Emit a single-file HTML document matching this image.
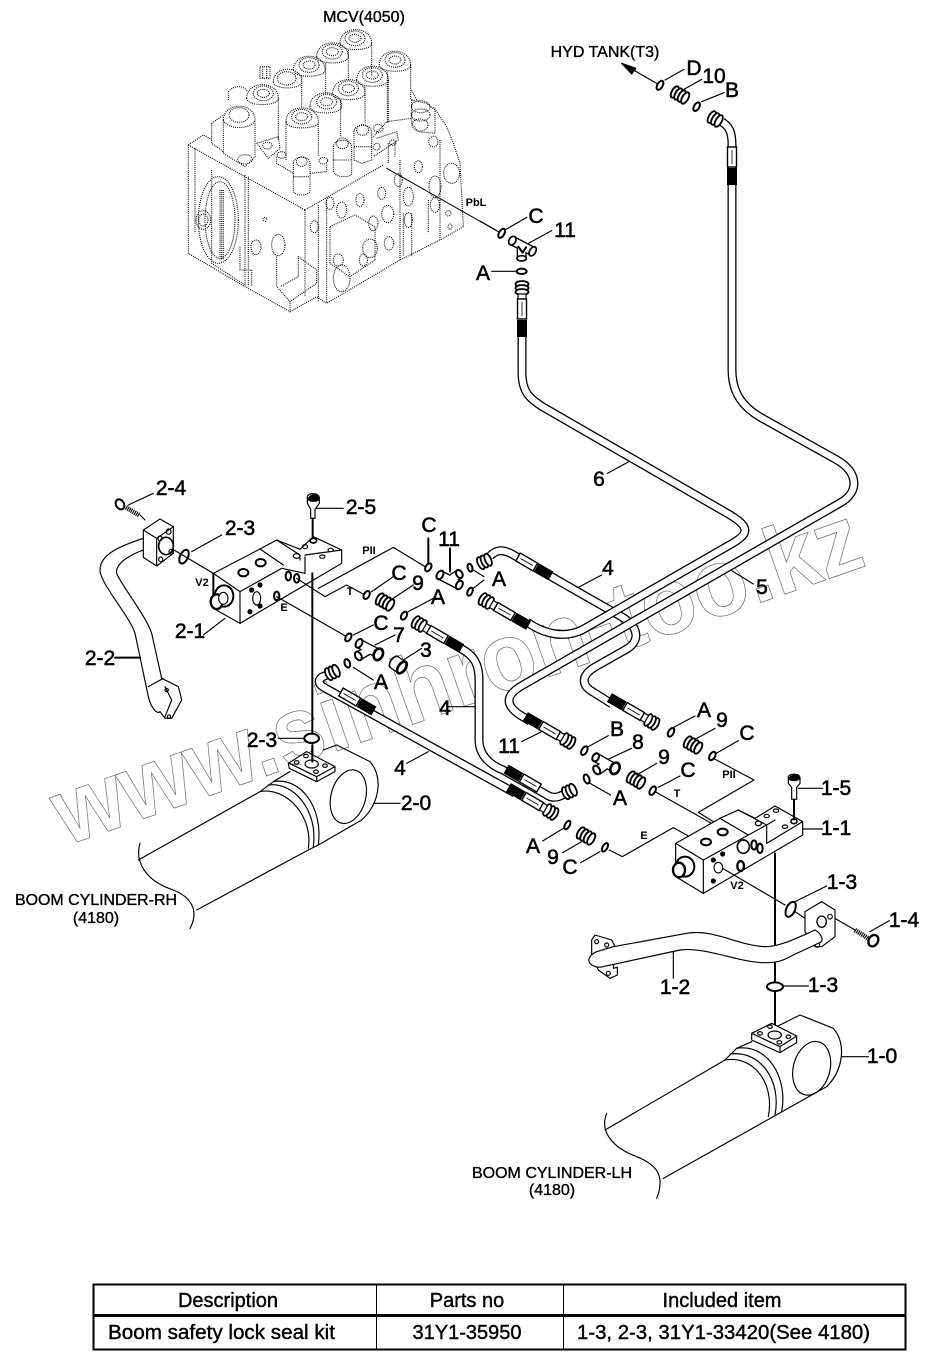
<!DOCTYPE html>
<html><head><meta charset="utf-8"><style>
html,body{margin:0;padding:0;background:#fff}
svg{display:block}
text{font-family:"Liberation Sans",sans-serif;fill:#000}
.l text{font-size:21px;stroke:#000;stroke-width:.55;text-anchor:middle}
.s text{font-size:11px;font-weight:bold;text-anchor:middle}
.c text{font-size:16px;stroke:#000;stroke-width:.35;text-anchor:middle}
.t text{font-size:20px;stroke:#000;stroke-width:.4}
.d *{fill:none;stroke:#000;stroke-width:3.2;stroke-dasharray:3 3.2}
.z *{fill:none;stroke:#000;stroke-width:3.5;stroke-linejoin:round;stroke-linecap:round}
.z .w{fill:#fff}
.z .b{stroke-width:6}
.z .th{stroke-linecap:butt;stroke-width:14;stroke-dasharray:3.5 2.5}
.z .bk{fill:#000}
.z .tb{stroke-linecap:butt;stroke-width:30}
.z .tw{stroke-linecap:butt;stroke-width:22;stroke:#fff}
.z .n{fill:#fff;stroke-width:6}
</style></head><body>
<svg width="929" height="1366" viewBox="0 0 929 1366" xmlns="http://www.w3.org/2000/svg">
<defs>
<g id="nut"><g fill="#fff" stroke="#000" stroke-width="1.8"><ellipse cx="2" cy="0" rx="3" ry="6.5"/><ellipse cx="6" cy="0" rx="3" ry="6.5"/><ellipse cx="10" cy="0" rx="3" ry="6.5"/></g></g>
<g id="crimp"><rect x="0" y="-4.5" width="20" height="9" fill="#fff" stroke="#000" stroke-width="1.4"/><line x1="3" y1="0" x2="17" y2="0" stroke="#000" stroke-width=".8"/><rect x="21" y="-5" width="17" height="10" fill="#000"/></g>
<g id="fit"><use href="#nut"/><rect x="12" y="-4" width="5" height="8" fill="#fff" stroke="#000" stroke-width="1.2"/><use href="#crimp" x="17"/></g>
<g id="nut9"><g fill="#fff" stroke="#000" stroke-width="1.9"><ellipse cx="-6" cy="0" rx="3" ry="6.3"/><ellipse cx="-2" cy="0" rx="3" ry="6.3"/><ellipse cx="2" cy="0" rx="3" ry="6.3"/><ellipse cx="6" cy="0" rx="3" ry="6.3"/></g></g>
</defs>

<!-- watermark -->
<text transform="translate(66,846) rotate(-19.3)" font-size="96" font-weight="bold" textLength="850" lengthAdjust="spacingAndGlyphs" style="fill:none;stroke:#777;stroke-width:.8">www.sinhron-too.kz</text>

<!-- MCV dotted drawing -->
<g class="d" transform="translate(170,0) scale(.33333)">
<path d="M55,435 L100,405 L125,418 M55,435 L405,630 M405,630 L405,890 M405,630 L640,495 M55,435 V760 L225,860 L360,935 V905 M360,935 L440,890 L470,910 L690,780 L810,720 L880,680 L870,490 L850,430 L830,380 L790,320 M740,300 L725,270"/>
<path d="M75,445 V700 M225,525 V860 M235,530 V860 M125,510 V790 L225,855"/>
<path d="M445,615 V905 M470,600 V910 M690,480 V780 M810,420 V720"/>
<ellipse cx="145" cy="660" rx="60" ry="130"/><ellipse cx="150" cy="660" rx="45" ry="115"/><path d="M150,570 V780 M160,570 V780 M155,570 V780"/>
<ellipse cx="100" cy="660" rx="22" ry="28"/><ellipse cx="100" cy="660" rx="14" ry="18"/>
<path d="M510,130 C510,75 605,75 605,130 C605,155 510,155 510,130 M605,130 V230 M535,150 V240"/><ellipse cx="555" cy="115" rx="30" ry="22"/><ellipse cx="555" cy="115" rx="18" ry="12"/>
<path d="M440,170 C440,115 535,115 535,170 C535,195 440,195 440,170 M467,190 V280"/><ellipse cx="487" cy="155" rx="30" ry="22"/><ellipse cx="487" cy="155" rx="18" ry="12"/>
<path d="M370,210 C370,155 465,155 465,210 C465,235 370,235 370,210 M395,230 V320"/><ellipse cx="417" cy="195" rx="30" ry="22"/><ellipse cx="417" cy="195" rx="18" ry="12"/>
<path d="M310,245 C310,195 395,195 395,245 C395,270 310,270 310,245"/><ellipse cx="350" cy="235" rx="28" ry="20"/>
<path d="M628,195 C628,140 722,140 722,195 C722,220 628,220 628,195 M722,195 V300 M652,215 V370"/><ellipse cx="675" cy="180" rx="30" ry="22"/><ellipse cx="675" cy="180" rx="18" ry="12"/>
<path d="M560,240 C560,185 655,185 655,240 C655,265 560,265 560,240 M655,240 V370 M585,260 V370"/><ellipse cx="607" cy="225" rx="30" ry="22"/><ellipse cx="607" cy="225" rx="18" ry="12"/>
<path d="M488,280 C488,225 585,225 585,280 C585,305 488,305 488,280 M512,300 V410"/><ellipse cx="535" cy="265" rx="30" ry="22"/><ellipse cx="535" cy="265" rx="18" ry="12"/>
<path d="M420,320 C420,265 515,265 515,320 C515,345 420,345 420,320"/><ellipse cx="470" cy="305" rx="30" ry="22"/><ellipse cx="470" cy="305" rx="18" ry="12"/>
<path d="M348,365 C348,310 445,310 445,365 C445,390 348,390 348,365 M348,365 V480 M445,365 V470"/><ellipse cx="395" cy="350" rx="30" ry="22"/><ellipse cx="395" cy="350" rx="18" ry="12"/>
<path d="M230,295 C230,240 325,240 325,295 C325,320 230,320 230,295 M325,295 V420"/><ellipse cx="280" cy="280" rx="30" ry="22"/><ellipse cx="280" cy="280" rx="18" ry="12"/>
<path d="M175,300 V275 C190,255 225,255 232,275 M270,200 H300 V235 H270Z M278,200 V235 M290,200 V235"/>
<path d="M160,360 C160,305 255,305 255,360 V470 L225,500 L160,460Z M160,360 C170,390 245,390 255,360"/><ellipse cx="207" cy="345" rx="30" ry="22"/><ellipse cx="225" cy="478" rx="22" ry="14"/>
<path d="M125,370 L160,345 M125,370 V430 L160,455"/>
<path d="M260,430 L325,410 L330,445 L295,475 L260,430"/><ellipse cx="292" cy="437" rx="14" ry="10"/>
<path d="M370,490 C370,465 420,465 420,490 V570 C420,590 370,590 370,570Z M370,530 H420"/><ellipse cx="395" cy="485" rx="16" ry="14"/>
<path d="M320,470 V490 L370,520 M420,520 L470,515 V490"/><ellipse cx="335" cy="465" rx="13" ry="10"/><ellipse cx="460" cy="482" rx="13" ry="10"/>
<path d="M490,440 C490,415 545,415 545,440 V520 C545,535 490,535 490,510Z M490,480 H545"/><ellipse cx="517" cy="430" rx="18" ry="16"/>
<path d="M552,395 C552,370 605,370 605,395 V480 L575,490 L552,480Z M552,440 H605"/><ellipse cx="578" cy="390" rx="18" ry="16"/>
<path d="M620,415 L680,395 L685,420 L610,470 M655,430 V490 M675,430 V470"/><ellipse cx="625" cy="385" rx="14" ry="12"/><ellipse cx="620" cy="440" rx="10" ry="10"/><ellipse cx="668" cy="428" rx="10" ry="8"/>
<path d="M725,300 L770,310 L795,330 V400 L745,395 L725,370Z M610,410 L650,365 L725,355"/><ellipse cx="752" cy="320" rx="28" ry="18"/><ellipse cx="752" cy="345" rx="28" ry="18"/><ellipse cx="750" cy="375" rx="24" ry="18"/>
<ellipse cx="515" cy="630" rx="15" ry="24"/><ellipse cx="480" cy="610" rx="12" ry="18"/><ellipse cx="570" cy="600" rx="12" ry="20"/><ellipse cx="635" cy="580" rx="12" ry="18"/><ellipse cx="653" cy="642" rx="18" ry="26"/><ellipse cx="715" cy="590" rx="15" ry="28"/><ellipse cx="685" cy="540" rx="12" ry="20"/><ellipse cx="745" cy="500" rx="12" ry="18"/><ellipse cx="795" cy="560" rx="18" ry="32"/><ellipse cx="795" cy="615" rx="14" ry="22"/><ellipse cx="845" cy="520" rx="24" ry="30"/><ellipse cx="790" cy="425" rx="14" ry="16"/><ellipse cx="840" cy="680" rx="6" ry="8"/><ellipse cx="835" cy="640" rx="8" ry="8"/><ellipse cx="715" cy="660" rx="12" ry="22"/><ellipse cx="657" cy="730" rx="14" ry="20"/><ellipse cx="610" cy="670" rx="14" ry="22"/><ellipse cx="600" cy="745" rx="22" ry="28"/><ellipse cx="580" cy="780" rx="12" ry="18"/><ellipse cx="515" cy="835" rx="25" ry="40"/><ellipse cx="505" cy="780" rx="15" ry="18"/><ellipse cx="433" cy="680" rx="12" ry="18"/><ellipse cx="325" cy="735" rx="20" ry="32"/><ellipse cx="258" cy="742" rx="15" ry="22"/><ellipse cx="285" cy="658" rx="6" ry="6"/>
<path d="M480,680 L555,645 L615,680 V780 L540,830 L480,790Z M320,770 V860 L360,905 L440,850 V810 L385,770 V830 L330,860 M700,640 V770 M725,640 V770 M775,600 V700 M210,740 V810 L245,810 V860"/>
</g>

<!-- hoses -->
<g fill="none" stroke-linejoin="round">
<path d="M490,556 C497,549 503,550 510,553 L622,617 C640,628 640,642 625,650 L595,667 C580,676 582,686 593,692 L612,704" stroke="#000" stroke-width="9"/>
<path d="M490,556 C497,549 503,550 510,553 L622,617 C640,628 640,642 625,650 L595,667 C580,676 582,686 593,692 L612,704" stroke="#fff" stroke-width="6.4"/>
<path d="M460,648 C475,656 479,665 479,680 V740 C479,755 490,765 503,770 L547,795 C555,800 562,796 570,790" stroke="#000" stroke-width="9"/>
<path d="M460,648 C475,656 479,665 479,680 V740 C479,755 490,765 503,770 L547,795 C555,800 562,796 570,790" stroke="#fff" stroke-width="6.4"/>
<path d="M332,673 L322,677 C317,681 319,685 325,688 L515,793" stroke="#000" stroke-width="9"/>
<path d="M332,673 L322,677 C317,681 319,685 325,688 L515,793" stroke="#fff" stroke-width="6.4"/>
<path d="M522,335 V373 C522,392 530,399 543,407 L725,512 C750,526 750,533 733,543 L582,630 C565,638 545,635 527,622" stroke="#000" stroke-width="9"/>
<path d="M522,335 V373 C522,392 530,399 543,407 L725,512 C750,526 750,533 733,543 L582,630 C565,638 545,635 527,622" stroke="#fff" stroke-width="6.4"/>
<path d="M722,122 C730,127 732,133 732,145 V370 C732,395 745,408 760,417 L837,460 C858,472 860,492 840,503 L523,685 C505,695 505,705 520,715 L530,721" stroke="#000" stroke-width="9"/>
<path d="M722,122 C730,127 732,133 732,145 V370 C732,395 745,408 760,417 L837,460 C858,472 860,492 840,503 L523,685 C505,695 505,705 520,715 L530,721" stroke="#fff" stroke-width="6.4"/>
</g>
<!-- hose fittings -->
<use href="#fit" transform="translate(522,282) rotate(90)"/>
<use href="#crimp" transform="translate(732,147) rotate(90)"/>
<use href="#nut" transform="translate(710,116) rotate(30)"/>
<use href="#fit" transform="translate(414,621) rotate(30)"/>
<use href="#fit" transform="translate(481,598) rotate(30)"/>
<use href="#fit" transform="translate(573,744) rotate(210)"/>
<use href="#fit" transform="translate(657,725) rotate(210)"/>
<use href="#fit" transform="translate(556,815) rotate(210)"/>
<use href="#crimp" transform="translate(539,788) rotate(210)"/>
<use href="#nut" transform="translate(564,794) rotate(-25)"/>
<use href="#crimp" transform="translate(518,557) rotate(30)"/>
<use href="#nut" transform="translate(479,564) rotate(-25)"/>
<use href="#nut" transform="translate(327,675) rotate(-25)"/>
<use href="#crimp" transform="translate(341,692) rotate(30)"/>
<use href="#nut9" transform="translate(680,95) rotate(30)"/>
<use href="#nut9" transform="translate(385,602) rotate(30)"/>
<use href="#nut9" transform="translate(636,780) rotate(30)"/>
<use href="#nut9" transform="translate(693,745) rotate(30)"/>
<use href="#nut9" transform="translate(586,836) rotate(30)"/>

<!-- z5 top right -->
<g class="z" transform="translate(480,20) scale(.33333)">
<line x1="530" y1="190" x2="460" y2="150"/><path class="bk" d="M425,130 L468,145 L455,162Z"/>
<line x1="555" y1="180" x2="612" y2="148"/><line x1="605" y1="212" x2="665" y2="178"/><line x1="665" y1="245" x2="732" y2="218"/>
<ellipse class="w" cx="540" cy="196" rx="8" ry="15" transform="rotate(30 540 196)" style="stroke-width:6"/>
<ellipse class="w" cx="650" cy="260" rx="8" ry="14" transform="rotate(30 650 260)" style="stroke-width:6"/>
<line x1="50" y1="632" x2="0" y2="603"/>
<ellipse class="w" cx="65" cy="640" rx="8" ry="15" transform="rotate(30 65 640)" style="stroke-width:6"/>
<line x1="78" y1="628" x2="140" y2="592"/><line x1="145" y1="670" x2="215" y2="632"/>
<ellipse class="w" cx="125" cy="754" rx="15" ry="8" style="stroke-width:6"/><line x1="35" y1="754" x2="108" y2="754"/>
<!-- T 11 -->
<path class="tb" d="M97,662 L158,694 M125,678 V718"/><path class="tw" d="M97,662 L158,694 M125,678 V716"/>
<ellipse class="w" cx="97" cy="662" rx="10" ry="14" transform="rotate(30 97 662)" style="stroke-width:5"/><ellipse class="w" cx="158" cy="694" rx="9" ry="15" transform="rotate(30 158 694)" style="stroke-width:5"/><ellipse class="w" cx="125" cy="715" rx="14" ry="8" style="stroke-width:5"/>
<path d="M115,680 L128,698 L138,682" style="stroke-width:6"/>
<!-- 6 leader -->
<line x1="382" y1="1360" x2="445" y2="1326"/>
</g>
<!-- left group in z2 -->
<g class="z" transform="translate(60,470) scale(.33333)">
<path class="w" d="M250,180 L300,147 L340,170 V250 L290,288 L250,262Z M250,180 L290,205 V288 M290,205 L340,170"/>
<ellipse cx="318" cy="228" rx="22" ry="26" style="stroke-width:5"/><ellipse cx="326" cy="185" rx="7" ry="8"/><ellipse cx="300" cy="205" rx="6" ry="7"/><ellipse cx="333" cy="245" rx="6" ry="7"/><ellipse cx="302" cy="268" rx="6" ry="7"/>
<path d="M250,205 C190,225 120,250 120,300 C120,340 210,440 225,490 L265,680 C272,710 290,735 300,725 M250,240 C210,255 165,280 170,310 C180,340 260,440 275,490 L305,625 M265,650 L310,625"/>
<path d="M305,625 L355,650 L365,690 L335,745 L315,745 L300,725 M315,650 L335,690 L315,740"/><circle cx="327" cy="740" r="5"/><circle cx="320" cy="660" r="5"/>
<path d="M240,135 L255,150"/><path class="th" d="M198,112 L238,136"/><ellipse class="w" cx="180" cy="103" rx="12" ry="16" transform="rotate(-30 180 103)" style="stroke-width:6"/>
<line x1="205" y1="105" x2="280" y2="70"/>
<path class="w" d="M742,78 C750,68 775,68 778,82 V100 L765,118 V145 H752 V118 L742,100Z"/><path class="bk" d="M744,88 C750,70 775,70 777,88 C770,96 750,96 744,88Z"/>
<line x1="758" y1="145" x2="758" y2="205" class="b"/><line x1="770" y1="115" x2="850" y2="115"/>
<ellipse class="w" cx="372" cy="260" rx="12" ry="22" transform="rotate(25 372 260)" style="stroke-width:6"/>
<line x1="395" y1="245" x2="485" y2="195"/><line x1="342" y1="240" x2="460" y2="310"/>
<path class="w" d="M460,310 L600,237 L650,210 L720,238 L760,200 L845,240 V280 L540,460 L460,415Z"/>
<path d="M460,310 L540,365 V460 M540,365 L665,295 L735,310 M600,237 L670,285 M650,210 L720,255 V270 M735,260 V310 M735,255 L845,240"/>
<line x1="460" y1="310" x2="460" y2="400" class="b"/>
<ellipse cx="550" cy="308" rx="15" ry="11" style="stroke-width:6"/><ellipse cx="602" cy="278" rx="15" ry="11" style="stroke-width:6"/><ellipse cx="760" cy="212" rx="10" ry="7" style="stroke-width:5"/><ellipse cx="735" cy="230" rx="8" ry="6"/><ellipse cx="812" cy="240" rx="8" ry="5"/><ellipse cx="787" cy="260" rx="8" ry="5"/><ellipse cx="710" cy="258" rx="10" ry="7"/>
<ellipse cx="590" cy="385" rx="12" ry="20"/><circle cx="575" cy="360" r="6" class="bk"/><circle cx="600" cy="345" r="6" class="bk"/><circle cx="570" cy="425" r="6" class="bk"/><circle cx="600" cy="408" r="6" class="bk"/>
<ellipse class="w" cx="650" cy="378" rx="8" ry="13" style="stroke-width:6"/><ellipse class="w" cx="685" cy="318" rx="8" ry="13" style="stroke-width:6"/><ellipse class="w" cx="710" cy="325" rx="8" ry="13" style="stroke-width:6"/>
<ellipse class="w" cx="492" cy="378" rx="28" ry="32" style="stroke-width:6"/><ellipse class="w" cx="470" cy="395" rx="18" ry="22" style="stroke-width:7"/><ellipse class="w" cx="490" cy="385" rx="14" ry="18"/>
<line x1="430" y1="495" x2="495" y2="445"/><line x1="165" y1="563" x2="240" y2="563" class="b"/>
<line x1="757" y1="310" x2="757" y2="790" class="b"/><line x1="757" y1="830" x2="757" y2="880" class="b"/>
<ellipse class="w" cx="755" cy="805" rx="22" ry="14" style="stroke-width:6"/><line x1="655" y1="805" x2="730" y2="805"/>
<path d="M235,1170 L600,965 M905,1050 L775,1125 L745,1140 L410,1320 M640,935 L690,905 M600,965 L640,935 M790,840 L830,825 L930,875 C970,920 960,1000 905,1050"/>
<path d="M240,1120 C225,1170 250,1230 340,1260 C390,1280 420,1320 390,1375"/>
<path d="M600,965 C680,950 760,1040 745,1135 M640,935 C720,920 790,1010 775,1125 M625,945 C700,935 775,1020 760,1130"/>
<ellipse cx="865" cy="980" rx="52" ry="82" transform="rotate(15 865 980)"/>
<path class="w" d="M685,880 L740,845 L825,890 V905 L770,935 L688,895Z M688,880 L770,920 L825,890 M770,920 V935"/>
<ellipse cx="755" cy="882" rx="20" ry="12"/><ellipse cx="710" cy="877" rx="7" ry="5"/><ellipse cx="738" cy="858" rx="7" ry="5"/><ellipse cx="795" cy="887" rx="7" ry="5"/><ellipse cx="768" cy="905" rx="7" ry="5"/>
<line x1="757" y1="825" x2="757" y2="875" class="b"/>
<line x1="940" y1="1000" x2="1020" y2="1000"/>
<path d="M650,380 L860,500"/><ellipse class="w" cx="865" cy="502" rx="8" ry="13" transform="rotate(30 865 502)" style="stroke-width:6"/><line x1="880" y1="495" x2="940" y2="465"/>
<path d="M710,325 L795,380 L860,345 L915,375"/><ellipse class="w" cx="920" cy="375" rx="8" ry="13" transform="rotate(30 920 375)" style="stroke-width:6"/><line x1="935" y1="365" x2="1000" y2="320"/>
<path d="M775,355 L1000,232 L1095,290"/><ellipse class="w" cx="1105" cy="292" rx="8" ry="13" transform="rotate(30 1105 292)" style="stroke-width:6"/><line x1="1105" y1="280" x2="1105" y2="205" class="b"/>
<ellipse class="w" cx="1032" cy="437" rx="8" ry="13" transform="rotate(30 1032 437)" style="stroke-width:6"/><line x1="1045" y1="425" x2="1120" y2="385"/>
<line x1="985" y1="395" x2="1060" y2="345"/>
<!-- 7 -->
<path class="tb" d="M895,520 L960,553 M895,558 L930,538"/><path class="tw" d="M895,520 L960,553 M895,558 L930,538"/>
<ellipse class="n" cx="897" cy="520" rx="9" ry="14" transform="rotate(30 897 520)"/><ellipse class="n" cx="895" cy="558" rx="9" ry="14" transform="rotate(-30 895 558)"/><ellipse class="n" cx="955" cy="553" rx="13" ry="18" transform="rotate(25 955 553)" style="stroke-width:8"/>
<line x1="945" y1="525" x2="1005" y2="495"/>
<!-- 3 -->
<g transform="rotate(35 1015 585)"><ellipse class="w" cx="1000" cy="585" rx="11" ry="20" style="stroke-width:5"/><rect x="1000" y="565" width="28" height="40" style="fill:#fff;stroke:none"/><path d="M1000,565 H1028 M1000,605 H1028"/><ellipse class="w" cx="1028" cy="585" rx="11" ry="20" style="stroke-width:8"/></g>
<line x1="1030" y1="570" x2="1085" y2="535"/>
<ellipse class="w" cx="862" cy="580" rx="8" ry="13" transform="rotate(-20 862 580)" style="stroke-width:6"/><line x1="880" y1="592" x2="940" y2="630"/>
<line x1="1040" y1="880" x2="1105" y2="845"/>
<line x1="1165" y1="710" x2="1245" y2="710"/>
<!-- T 11 -->
<path class="tb" d="M1140,315 L1198,345 M1170,330 L1198,312"/><path class="tw" d="M1140,315 L1198,345 M1170,330 L1198,312"/>
<ellipse class="n" cx="1140" cy="315" rx="9" ry="14" transform="rotate(30 1140 315)"/><ellipse class="n" cx="1198" cy="345" rx="9" ry="14" transform="rotate(30 1198 345)"/><ellipse class="n" cx="1198" cy="312" rx="9" ry="13" transform="rotate(-30 1198 312)"/>
<line x1="1170" y1="305" x2="1170" y2="235" class="b"/>
<ellipse class="w" cx="1230" cy="293" rx="7" ry="12" transform="rotate(-15 1230 293)" style="stroke-width:6"/><ellipse class="w" cx="1230" cy="365" rx="7" ry="13" transform="rotate(25 1230 365)" style="stroke-width:6"/>
<path d="M1240,300 L1272,320 M1240,355 L1272,330"/>
</g>
<!-- z4 -->
<g class="z" transform="translate(400,480) scale(.33333)">
<line x1="535" y1="322" x2="605" y2="285"/>
<line x1="995" y1="272" x2="1060" y2="312"/>
<line x1="815" y1="745" x2="885" y2="708"/>
<ellipse class="w" cx="813" cy="757" rx="8" ry="14" transform="rotate(30 813 757)" style="stroke-width:6"/>
<line x1="365" y1="785" x2="425" y2="755"/>
<line x1="565" y1="800" x2="625" y2="767"/>
<ellipse class="w" cx="553" cy="812" rx="8" ry="14" transform="rotate(30 553 812)" style="stroke-width:6"/>
<ellipse class="w" cx="560" cy="897" rx="8" ry="14" transform="rotate(-20 560 897)" style="stroke-width:6"/>
<line x1="570" y1="910" x2="632" y2="945"/>
<line x1="620" y1="840" x2="695" y2="805"/>
<path class="tb" d="M587,832 L645,865 M592,872 L625,848"/><path class="tw" d="M587,832 L645,865 M592,872 L625,848"/>
<ellipse class="n" cx="587" cy="832" rx="9" ry="13" transform="rotate(30 587 832)"/><ellipse class="n" cx="590" cy="870" rx="9" ry="14" transform="rotate(-30 590 870)"/><ellipse class="n" cx="645" cy="865" rx="13" ry="18" transform="rotate(25 645 865)" style="stroke-width:8"/>
<line x1="710" y1="885" x2="770" y2="850"/>
<line x1="885" y1="778" x2="945" y2="745"/>
</g>
<!-- z3 -->
<g class="z" transform="translate(480,680) scale(.33333)">
<line x1="700" y1="225" x2="775" y2="182"/>
<ellipse class="w" cx="697" cy="228" rx="8" ry="14" transform="rotate(30 697 228)" style="stroke-width:6"/>
<path d="M700,235 L822,300 L655,397 L700,425"/>
<ellipse class="w" cx="518" cy="332" rx="8" ry="14" transform="rotate(30 518 332)" style="stroke-width:6"/>
<path d="M525,335 L700,433"/><line x1="535" y1="322" x2="600" y2="288"/>
<ellipse class="w" cx="262" cy="435" rx="7" ry="14" transform="rotate(30 262 435)" style="stroke-width:6"/><line x1="188" y1="483" x2="250" y2="445"/>
<line x1="248" y1="518" x2="305" y2="485"/>
<ellipse class="w" cx="375" cy="502" rx="7" ry="14" transform="rotate(30 375 502)" style="stroke-width:6"/>
<path d="M302,548 L360,515 M388,510 L427,530 L580,443 L625,468"/>
<path class="w" d="M587,490 L720,415 L775,390 L825,415 L885,378 L968,425 V465 L670,640 L587,590Z"/>
<path d="M587,490 L670,540 V640 M670,540 L805,465 L860,435 V490 M720,415 L805,465 M775,390 L860,435 M860,435 L885,420 M860,490 L968,425"/>
<ellipse cx="678" cy="486" rx="15" ry="10" style="stroke-width:6"/><ellipse cx="728" cy="456" rx="15" ry="10" style="stroke-width:6"/><ellipse cx="835" cy="430" rx="9" ry="7" style="stroke-width:4"/><ellipse cx="860" cy="408" rx="8" ry="5"/><ellipse cx="888" cy="392" rx="8" ry="5"/><ellipse cx="915" cy="440" rx="8" ry="5"/><ellipse cx="942" cy="424" rx="9" ry="7" style="stroke-width:5"/>
<ellipse cx="715" cy="563" rx="13" ry="16"/><circle cx="700" cy="540" r="6" class="bk"/><circle cx="728" cy="522" r="6" class="bk"/><circle cx="700" cy="603" r="6" class="bk"/><ellipse cx="782" cy="558" rx="10" ry="15" style="stroke-width:7"/>
<ellipse class="w" cx="790" cy="500" rx="18" ry="20" style="stroke-width:5"/><ellipse class="w" cx="822" cy="495" rx="8" ry="14" style="stroke-width:6"/><ellipse class="w" cx="840" cy="505" rx="8" ry="14" style="stroke-width:6"/>
<ellipse class="w" cx="615" cy="560" rx="28" ry="30" style="stroke-width:6"/><ellipse class="w" cx="597" cy="570" rx="18" ry="22" style="stroke-width:7"/>
<path d="M968,447 H1028"/>
<path class="w" d="M925,290 C930,280 958,280 960,292 V310 L950,322 V358 H935 V322 L925,310Z"/><path class="bk" d="M927,296 C932,282 956,282 958,296 C952,304 932,304 927,296Z"/><line x1="942" y1="358" x2="942" y2="418" class="b"/><line x1="955" y1="325" x2="1028" y2="325"/>
<line x1="885" y1="520" x2="885" y2="800" class="b"/><line x1="885" y1="848" x2="885" y2="1040" class="b"/>
<ellipse class="w" cx="885" cy="920" rx="24" ry="13" style="stroke-width:6"/><line x1="910" y1="918" x2="985" y2="918"/>
<path d="M728,565 L915,675 M945,695 L975,715"/>
<ellipse class="w" cx="932" cy="688" rx="13" ry="24" transform="rotate(25 932 688)" style="stroke-width:6"/><line x1="945" y1="665" x2="1040" y2="618"/>
<path class="w" d="M975,695 L1025,665 L1065,690 V770 L1025,800 L1005,800 L975,755Z"/>
<ellipse cx="1025" cy="725" rx="14" ry="17" style="stroke-width:4"/><circle cx="1050" cy="710" r="7"/><circle cx="1012" cy="795" r="7"/>
<path class="w" d="M335,780 L345,765 L395,780 L405,800 L400,865 L412,862 V885 L390,895 L355,870 L335,830Z"/><circle cx="380" cy="795" r="6"/><circle cx="350" cy="785" r="6"/><circle cx="385" cy="880" r="6"/>
<path class="w" d="M400,800 L620,760 C700,745 780,800 860,800 C900,800 960,770 1005,750 C1015,755 1030,770 1025,785 L940,825 C900,848 880,848 860,848 C780,850 680,800 600,810 L360,862 C320,860 315,830 350,815Z"/>
<line x1="1065" y1="715" x2="1125" y2="750"/><path class="th" d="M1125,750 L1165,775"/><ellipse class="w" cx="1180" cy="782" rx="14" ry="18" transform="rotate(30 1180 782)" style="stroke-width:7"/><line x1="1170" y1="755" x2="1228" y2="722"/>
<line x1="580" y1="815" x2="580" y2="895"/>
<path d="M375,1350 L735,1140 L770,1105 L815,1085 M550,1495 L880,1310 L1040,1220 C1090,1170 1100,1090 1060,1045 L960,1005 L890,1040"/>
<path d="M380,1300 C360,1350 390,1400 470,1430 C520,1450 560,1480 530,1555"/>
<path d="M735,1140 C820,1125 885,1210 865,1310 M770,1105 C860,1090 925,1190 905,1295 M750,1122 C840,1110 905,1200 885,1305"/>
<ellipse cx="995" cy="1165" rx="55" ry="82" transform="rotate(15 995 1165)"/>
<path class="w" d="M815,1060 L875,1030 L950,1068 V1088 L900,1118 L815,1080Z M815,1060 L900,1100 L950,1068 M900,1100 V1118"/>
<ellipse cx="884" cy="1065" rx="20" ry="12"/><ellipse cx="840" cy="1060" rx="7" ry="5"/><ellipse cx="870" cy="1040" rx="7" ry="5"/><ellipse cx="925" cy="1070" rx="7" ry="5"/><ellipse cx="898" cy="1087" rx="7" ry="5"/>
<line x1="1085" y1="1130" x2="1165" y2="1130"/>
</g>
<g class="z" transform="translate(170,0) scale(.33333)"><line x1="650" y1="505" x2="985" y2="695" style="stroke-width:3"/></g>

<!-- labels -->
<g class="c">
<text x="364" y="22">MCV(4050)</text>
<text x="605" y="57">HYD TANK(T3)</text>
<text x="96" y="905" textLength="162" lengthAdjust="spacingAndGlyphs">BOOM CYLINDER-RH</text>
<text x="96" y="923">(4180)</text>
<text x="552" y="1178" textLength="160" lengthAdjust="spacingAndGlyphs">BOOM CYLINDER-LH</text>
<text x="552" y="1195">(4180)</text>
</g>
<g class="s">
<text x="476" y="206">PbL</text>
<text x="369" y="554">PII</text><text x="350" y="595">T</text><text x="284" y="611">E</text><text x="202" y="586">V2</text>
<text x="729" y="778">PII</text><text x="677" y="797">T</text><text x="644" y="839">E</text><text x="737" y="889">V2</text>
</g>
<g class="l">
<text x="694" y="75">D</text><text x="714" y="83">10</text><text x="732" y="97">B</text>
<text x="536" y="223">C</text><text x="565" y="237">11</text><text x="483" y="280">A</text>
<text x="599" y="486">6</text><text x="762" y="594">5</text><text x="608" y="575">4</text><text x="445" y="715">4</text><text x="400" y="775">4</text>
<text x="171" y="495">2-4</text><text x="361" y="514">2-5</text><text x="240" y="535">2-3</text>
<text x="429" y="532">C</text><text x="449" y="546">11</text><text x="399" y="580">C</text><text x="418" y="590">9</text><text x="499" y="586">A</text><text x="438" y="604">A</text><text x="381" y="630">C</text><text x="399" y="642">7</text><text x="426" y="657">3</text><text x="381" y="689">A</text>
<text x="190" y="638">2-1</text><text x="100" y="665">2-2</text><text x="262" y="747">2-3</text><text x="416" y="810">2-0</text>
<text x="704" y="717">A</text><text x="722" y="727">9</text><text x="747" y="740">C</text><text x="617" y="736">B</text><text x="638" y="749">8</text><text x="664" y="764">9</text><text x="688" y="777">C</text><text x="509" y="753">11</text><text x="620" y="805">A</text>
<text x="836" y="795">1-5</text><text x="836" y="835">1-1</text><text x="533" y="853">A</text><text x="553" y="864">9</text><text x="570" y="874">C</text>
<text x="842" y="889">1-3</text><text x="904" y="927">1-4</text><text x="675" y="994">1-2</text><text x="823" y="992">1-3</text><text x="882" y="1063">1-0</text>
</g>

<!-- table -->
<rect x="93.5" y="1284.5" width="812" height="65" fill="none" stroke="#000" stroke-width="2"/>
<rect x="93" y="1314" width="812" height="3" fill="#000"/>
<line x1="376.5" y1="1284" x2="376.5" y2="1349" stroke="#000"/>
<line x1="563.5" y1="1284" x2="563.5" y2="1349" stroke="#000"/>
<g class="t">
<text x="228" y="1307" text-anchor="middle">Description</text>
<text x="467" y="1307" text-anchor="middle">Parts no</text>
<text x="722" y="1307" text-anchor="middle">Included item</text>
<text x="108" y="1339" textLength="227" lengthAdjust="spacingAndGlyphs">Boom safety lock seal kit</text>
<text x="467" y="1339" text-anchor="middle">31Y1-35950</text>
<text x="577" y="1339" textLength="293" lengthAdjust="spacingAndGlyphs">1-3, 2-3, 31Y1-33420(See 4180)</text>
</g>
</svg>
</body></html>
